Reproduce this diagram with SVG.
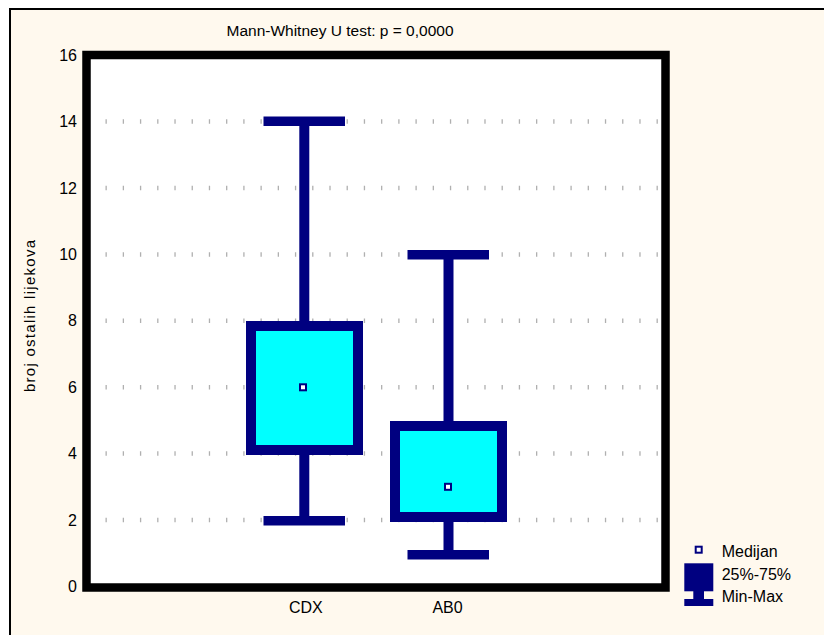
<svg xmlns="http://www.w3.org/2000/svg" width="824" height="635" viewBox="0 0 824 635">
<style>
text{font-family:"Liberation Sans",Arial,sans-serif;fill:#000}
.tk{font-size:16px;text-anchor:end}
.nv{fill:#000080}
.grid{stroke:#B0B0B0;stroke-width:4.5;stroke-dasharray:1.3 15.92;fill:none}
.med{fill:#fff;stroke:#000080;stroke-width:2}
.box{fill:#00FFFF;stroke:#000080;stroke-width:10}
</style>
<rect x="0" y="0" width="824" height="635" fill="#fff"/>
<rect x="9" y="9" width="815" height="626" fill="#FFF9EE"/>
<path d="M10 635V9H824" fill="none" stroke="#000" stroke-width="2"/>
<text x="340" y="36" font-size="15.5" text-anchor="middle">Mann-Whitney U test: p = 0,0000</text>
<g id="plot-area">
<rect x="86.5" y="55" width="579" height="532.5" fill="#fff" stroke="#000" stroke-width="8.5"/>
</g>
<g id="grid">
<line class="grid" x1="105.5" y1="121.6" x2="660" y2="121.6"/>
<line class="grid" x1="105.5" y1="188" x2="660" y2="188"/>
<line class="grid" x1="105.5" y1="254.4" x2="660" y2="254.4"/>
<line class="grid" x1="105.5" y1="320.8" x2="660" y2="320.8"/>
<line class="grid" x1="105.5" y1="387.2" x2="660" y2="387.2"/>
<line class="grid" x1="105.5" y1="453.6" x2="660" y2="453.6"/>
<line class="grid" x1="105.5" y1="520" x2="660" y2="520"/>
</g>
<g id="y-axis">
<text class="tk" x="77" y="60.5">16</text>
<text class="tk" x="77" y="127">14</text>
<text class="tk" x="77" y="193.5">12</text>
<text class="tk" x="77" y="260">10</text>
<text class="tk" x="77" y="326.3">8</text>
<text class="tk" x="77" y="392.7">6</text>
<text class="tk" x="77" y="459">4</text>
<text class="tk" x="77" y="525.5">2</text>
<text class="tk" x="77" y="592">0</text>
<text transform="translate(35,316) rotate(-90)" font-size="15" text-anchor="middle" textLength="152" lengthAdjust="spacing">broj ostalih lijekova</text>
</g>
<g id="CDX">
<rect class="nv" x="299.3" y="121" width="10" height="205"/>
<rect class="nv" x="299.3" y="450" width="10" height="70"/>
<rect class="nv" x="263.5" y="116.5" width="81.5" height="9.5"/>
<rect class="nv" x="263.5" y="516" width="81.5" height="9.5"/>
<rect class="box" x="251" y="326" width="107" height="124"/>
<rect class="med" x="300" y="384.3" width="6" height="6"/>
<text x="305.8" y="613" font-size="16" text-anchor="middle">CDX</text>
</g>
<g id="AB0">
<rect class="nv" x="443.5" y="254" width="10" height="172"/>
<rect class="nv" x="443.5" y="517" width="10" height="37"/>
<rect class="nv" x="407.5" y="250" width="81.5" height="9.5"/>
<rect class="nv" x="407.5" y="550" width="81.5" height="9.5"/>
<rect class="box" x="395" y="426" width="107" height="91"/>
<rect class="med" x="445" y="483.8" width="6" height="6"/>
<text x="447.5" y="613" font-size="16" text-anchor="middle">AB0</text>
</g>
<g id="legend">
<rect class="med" x="695.7" y="546.7" width="6" height="6"/>
<rect class="nv" x="684.3" y="563.3" width="29" height="28"/>
<rect class="nv" x="693.3" y="591" width="10.7" height="9"/>
<rect class="nv" x="684.3" y="599" width="29" height="7"/>
<text x="721.7" y="556.7" font-size="16">Medijan</text>
<text x="721.7" y="580" font-size="16">25%-75%</text>
<text x="721.7" y="601.7" font-size="16">Min-Max</text>
</g>
</svg>
